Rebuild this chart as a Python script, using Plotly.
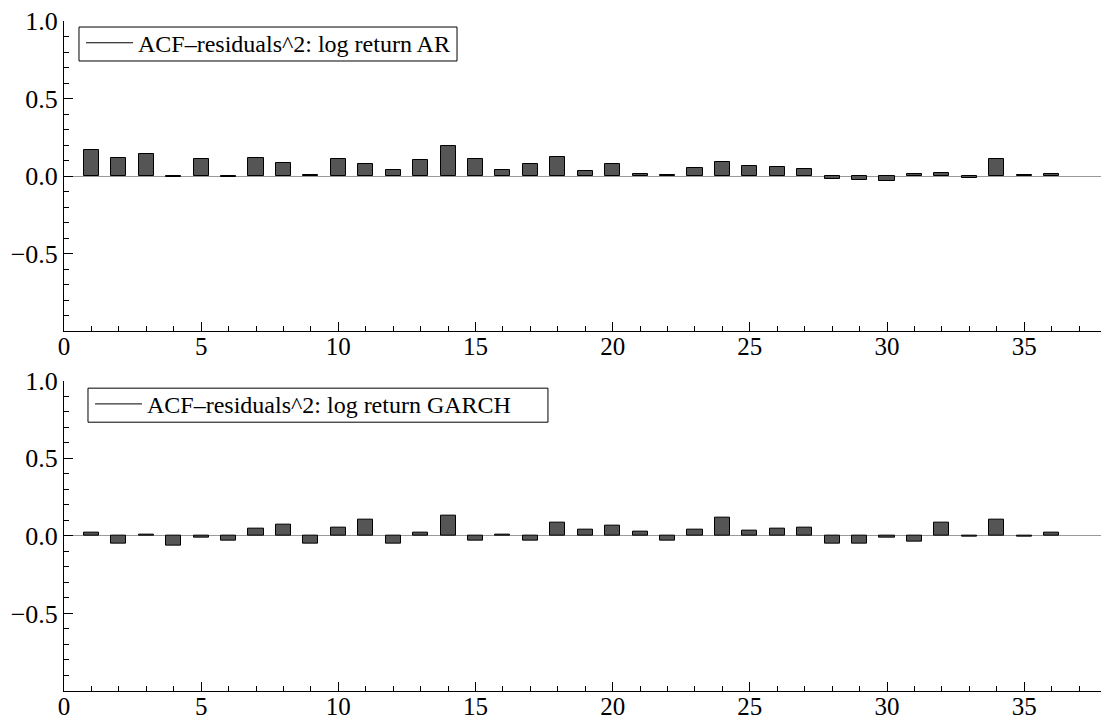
import plotly.graph_objects as go

lags = list(range(1, 37))
acf_ar = [0.166, 0.115, 0.140, -0.006, 0.108, -0.006, 0.119, 0.083, 0.008, 0.113,
          0.076, 0.038, 0.102, 0.191, 0.108, 0.042, 0.081, 0.125, 0.036, 0.076,
          0.011, 0.004, 0.051, 0.093, 0.066, 0.059, 0.049, -0.019, -0.023, -0.030,
          0.013, 0.019, -0.013, 0.108, 0.006, 0.015]
acf_garch = [0.021, -0.053, 0.008, -0.064, -0.011, -0.028, 0.045, 0.072, -0.049, 0.053,
             0.102, -0.051, 0.021, 0.132, -0.034, 0.008, -0.028, 0.085, 0.040, 0.066,
             0.028, -0.034, 0.040, 0.115, 0.034, 0.049, 0.053, -0.049, -0.049, -0.013,
             -0.036, 0.087, -0.004, 0.104, -0.006, 0.021]
label_ar = "ACF\u2013residuals^2: log return AR"
label_garch = "ACF\u2013residuals^2: log return GARCH"
x_ticks = [0, 5, 10, 15, 20, 25, 30, 35]
y_ticks = [-0.5, 0.0, 0.5, 1.0]
y_ticktext = ["\u22120.5", "0.0", "0.5", "1.0"]

FONT = "Liberation Serif, Times New Roman, serif"

fig = go.Figure()
bar_style = dict(marker=dict(color="#555555", line=dict(color="black", width=1)),
                 width=0.55, showlegend=False, hoverinfo="x+y")
fig.add_trace(go.Bar(x=lags, y=acf_ar, xaxis="x", yaxis="y", **bar_style))
fig.add_trace(go.Bar(x=lags, y=acf_garch, xaxis="x2", yaxis="y2", **bar_style))
fig.add_trace(go.Scatter(x=[None], y=[None], mode="lines", name=label_ar,
                         line=dict(color="black", width=1), xaxis="x", yaxis="y",
                         legend="legend"))
fig.add_trace(go.Scatter(x=[None], y=[None], mode="lines", name=label_garch,
                         line=dict(color="black", width=1), xaxis="x2", yaxis="y2",
                         legend="legend2"))

xaxis_style = dict(range=[0, 37.8], showline=True, linecolor="black", linewidth=1,
                   showgrid=False, zeroline=False, ticks="inside", ticklen=9,
                   tickcolor="black", tickvals=x_ticks, automargin=False,
                   ticklabelstandoff=-7,
                   minor=dict(ticks="inside", ticklen=5, dtick=1, tick0=0,
                              tickcolor="black", showgrid=False),
                   tickfont=dict(family=FONT, size=25, color="black"))
yaxis_style = dict(range=[-1, 1], showline=True, linecolor="black", linewidth=1,
                   showgrid=False, zeroline=True, zerolinecolor="#999999",
                   zerolinewidth=1, ticks="inside", ticklen=9, tickcolor="black",
                   tickvals=y_ticks, ticktext=y_ticktext, automargin=False,
                   minor=dict(ticks="inside", ticklen=5, dtick=0.1, tick0=0,
                              tickcolor="black", showgrid=False),
                   tickfont=dict(family=FONT, size=26, color="black"))

legend_style = dict(bgcolor="rgba(0,0,0,0)", borderwidth=0,
                    font=dict(family=FONT, size=24, color="black"),
                    xanchor="left", yanchor="top", itemwidth=47,
                    itemclick=False, itemdoubleclick=False)

box_style = dict(type="rect", xref="paper", yref="paper",
                 line=dict(color="black", width=1), fillcolor="white", layer="below")

fig.update_layout(
    width=1101, height=720,
    margin=dict(l=64, r=0, t=21, b=29),
    paper_bgcolor="white", plot_bgcolor="white",
    bargap=0,
    xaxis=dict(domain=[0, 1], anchor="y", **xaxis_style),
    yaxis=dict(domain=[0.537, 1.0], anchor="x", **yaxis_style),
    xaxis2=dict(domain=[0, 1], anchor="y2", **xaxis_style),
    yaxis2=dict(domain=[0.0, 0.4632], anchor="x2", **yaxis_style),
    legend=dict(x=0.0164, y=1.0005, **legend_style),
    legend2=dict(x=0.0251, y=0.4615, **legend_style),
    shapes=[
        dict(x0=0.01446, x1=0.379, y0=0.9403, y1=0.991, **box_style),
        dict(x0=0.02314, x1=0.4667, y0=0.4012, y1=0.452, **box_style),
    ],
    font=dict(family=FONT, size=24, color="black"),
)

fig.write_html("out.html", config={"displayModeBar": False},
               post_script="document.body.style.margin='0';document.body.style.overflow='hidden';")
